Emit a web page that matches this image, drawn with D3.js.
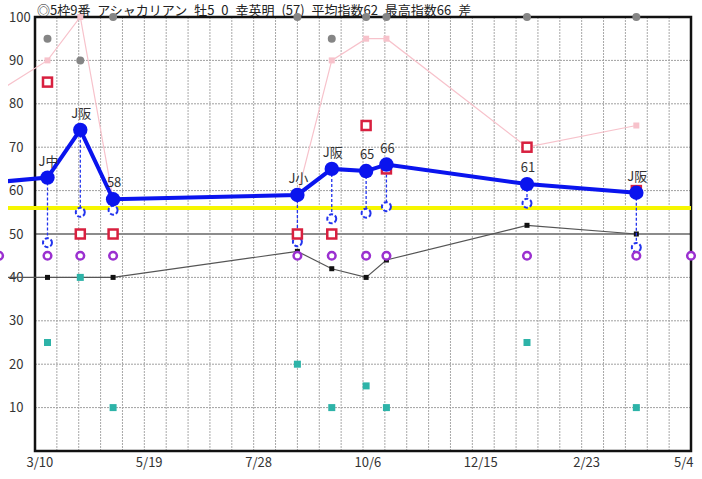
<!DOCTYPE html>
<html><head><meta charset="utf-8">
<script src="https://cdn.jsdelivr.net/npm/d3@7"></script>
<style>
body{margin:0;background:#fff;}
text{font-family:"Noto Sans CJK JP","Noto Sans",sans-serif;}
</style></head>
<body><svg id="c" width="702" height="479"></svg>
<script>
// ---- data ----
const titleText = "◎5枠9番 アシャカリアン 牡5 0 幸英明 (57) 平均指数62 最高指数66 差";
const dates = ["2022-02-15","2022-03-18","2022-04-08","2022-04-29","2022-08-25","2022-09-16","2022-10-08","2022-10-21","2023-01-19","2023-03-30","2023-05-04"];
const raceLabels = [null,"J中","J阪","58","J小","J阪","65","66","61","J阪",null];
const indexValues = [62,63,74,58,59,65,64.5,66,61.5,59.5,null];
const lowValues   = [null,48,55,55.5,48.2,53.5,54.8,56.3,57.1,46.9,null];
const redValues   = [null,85,50,50,50,50,75,65,70,60,null];
const pinkValues  = [83,90,100,58,59,90,95,95,70,75,null];
const grayValues  = [null,95,90,100,100,95,100,100,100,100,null];
const purpleValues= [45,45,45,45,45,45,45,45,45,45,45];
const blackValues = [40,40,40,40,46,42,40,44,52,50,null];
const tealValues  = [null,25,40,10,20,10,15,10,25,10,null];
const averageLine = 56;
const yTicks = [10,20,30,40,50,60,70,80,90,100];
const xTickDates = ["2022-03-10","2022-05-19","2022-07-28","2022-10-06","2022-12-15","2023-02-23","2023-05-04"];

// ---- setup ----
const parse = d3.timeParse("%Y-%m-%d");
const D = dates.map(parse);
const svg = d3.select("#c");
const L=35, R=691, T=17, B=451;
const x = d3.scaleTime().domain([parse("2022-03-10"), parse("2023-05-04")]).range([L,R]);
const y = d3.scaleLinear().domain([0,100]).range([B,T]);
const idx = d3.range(D.length);

svg.append("defs").append("clipPath").attr("id","clipL")
  .append("rect").attr("x",8).attr("y",0).attr("width",R-8).attr("height",479);

// title
svg.append("text").attr("x",37).attr("y",14.5).attr("font-size",13)
  .attr("fill","#222").attr("word-spacing","4px").attr("xml:space","preserve").text(titleText);

// grid
const gridDays = d3.range(14, 421, 14).map(k=>d3.timeDay.offset(x.domain()[0],k));
svg.append("g").selectAll("line").data(gridDays).join("line")
  .attr("x1",d=>x(d)).attr("x2",d=>x(d)).attr("y1",T).attr("y2",B)
  .attr("stroke","#a8a8a8").attr("stroke-width",1).attr("stroke-dasharray","2,1");
svg.append("g").selectAll("line").data(yTicks.filter(v=>v!==50&&v!==100)).join("line")
  .attr("x1",L).attr("x2",R).attr("y1",d=>y(d)).attr("y2",d=>y(d))
  .attr("stroke","#a0a0a0").attr("stroke-width",1).attr("stroke-dasharray","2,1");
svg.append("line").attr("x1",L).attr("x2",R).attr("y1",y(50)).attr("y2",y(50))
  .attr("stroke","#8c8c8c").attr("stroke-width",2);

// axes
const ya = svg.append("g").attr("transform",`translate(${L},0)`)
  .call(d3.axisLeft(y).tickValues(yTicks).tickSize(0).tickPadding(0));
ya.select(".domain").remove();
ya.selectAll("text").attr("x",9-L).attr("text-anchor","start").attr("font-size",13)
  .attr("fill","#333").attr("font-family","'Noto Sans CJK JP',sans-serif");

const xa = svg.append("g").attr("transform",`translate(0,${B})`)
  .call(d3.axisBottom(x).tickValues(xTickDates.map(parse)).tickFormat(d3.timeFormat("%-m/%-d")).tickSize(0).tickPadding(7));
xa.select(".domain").remove();
xa.selectAll("text").attr("font-size",13).attr("fill","#333")
  .attr("font-family","'Noto Sans CJK JP',sans-serif")
  .attr("text-anchor",(d,i)=>i===xTickDates.length-1?"end":"start")
  .attr("dx",(d,i)=>i===xTickDates.length-1?2:-9);

// frame
svg.append("rect").attr("x",L).attr("y",T).attr("width",R-L).attr("height",B-T)
  .attr("fill","none").attr("stroke","#111").attr("stroke-width",2.5);

const clipG = svg.append("g").attr("clip-path","url(#clipL)");

// yellow average line
clipG.append("line").attr("x1",0).attr("x2",R).attr("y1",y(averageLine)).attr("y2",y(averageLine))
  .attr("stroke","#f6f600").attr("stroke-width",4);

// pink line
const pinkLine = d3.line().defined(i=>pinkValues[i]!=null).x(i=>x(D[i])).y(i=>y(pinkValues[i]));
clipG.append("path").attr("d",pinkLine(idx)).attr("fill","none").attr("stroke","#f7c2cb").attr("stroke-width",1.2);
clipG.selectAll(".pk").data(idx.filter(i=>pinkValues[i]!=null)).join("rect")
  .attr("x",i=>x(D[i])-3).attr("y",i=>y(pinkValues[i])-3).attr("width",6).attr("height",6).attr("fill","#f7c2cb");

// black line
const blackLine = d3.line().defined(i=>blackValues[i]!=null).x(i=>x(D[i])).y(i=>y(blackValues[i]));
clipG.append("path").attr("d",blackLine(idx)).attr("fill","none").attr("stroke","#555").attr("stroke-width",1.2);

// dashed verticals and low circles
const lowIdx = idx.filter(i=>lowValues[i]!=null);
svg.append("g").selectAll("line").data(lowIdx).join("line")
  .attr("x1",i=>x(D[i])).attr("x2",i=>x(D[i])).attr("y1",i=>y(indexValues[i])).attr("y2",i=>y(lowValues[i]))
  .attr("stroke","#2233ee").attr("stroke-width",1.3).attr("stroke-dasharray","3,2");
svg.append("g").selectAll("circle").data(lowIdx).join("circle")
  .attr("cx",i=>x(D[i])).attr("cy",i=>y(lowValues[i])).attr("r",4.5)
  .attr("fill","#fff").attr("stroke","#2233ee").attr("stroke-width",2).attr("stroke-dasharray","4,2");

// red squares
svg.append("g").selectAll("rect").data(idx.filter(i=>redValues[i]!=null)).join("rect")
  .attr("x",i=>x(D[i])-4.5).attr("y",i=>y(redValues[i])-4.5).attr("width",9).attr("height",9)
  .attr("fill","#fff").attr("stroke","#d8203f").attr("stroke-width",2.5);

// purple circles
svg.append("g").selectAll("circle").data(idx.filter(i=>purpleValues[i]!=null)).join("circle")
  .attr("cx",i=>x(D[i])).attr("cy",i=>y(purpleValues[i])).attr("r",3.8)
  .attr("fill","#fff").attr("stroke","#9b30d0").attr("stroke-width",2.5);

// teal squares
svg.append("g").selectAll("rect").data(idx.filter(i=>tealValues[i]!=null)).join("rect")
  .attr("x",i=>x(D[i])-3.5).attr("y",i=>y(tealValues[i])-3.5).attr("width",7).attr("height",7)
  .attr("fill","#2db3a8");

// black squares
clipG.selectAll(".bk").data(idx.filter(i=>blackValues[i]!=null)).join("rect")
  .attr("x",i=>x(D[i])-2.5).attr("y",i=>y(blackValues[i])-2.5).attr("width",5).attr("height",5).attr("fill","#111");

// gray dots
svg.append("g").selectAll("circle").data(idx.filter(i=>grayValues[i]!=null)).join("circle")
  .attr("cx",i=>x(D[i])).attr("cy",i=>y(grayValues[i])).attr("r",4).attr("fill","#858585");

// blue main line
const blueLine = d3.line().defined(i=>indexValues[i]!=null).x(i=>x(D[i])).y(i=>y(indexValues[i]));
clipG.append("path").attr("d",blueLine(idx)).attr("fill","none").attr("stroke","#0a14ee").attr("stroke-width",4);
svg.append("g").selectAll("circle").data(idx.filter(i=>raceLabels[i]!=null)).join("circle")
  .attr("cx",i=>x(D[i])).attr("cy",i=>y(indexValues[i])).attr("r",7.2).attr("fill","#0a14ee");

// labels
svg.append("g").selectAll("text").data(idx.filter(i=>raceLabels[i]!=null)).join("text")
  .attr("x",i=>x(D[i])+1).attr("y",i=>y(indexValues[i])-12)
  .attr("text-anchor","middle").attr("font-size",13).attr("fill","#333").text(i=>raceLabels[i]);
</script></body></html>
